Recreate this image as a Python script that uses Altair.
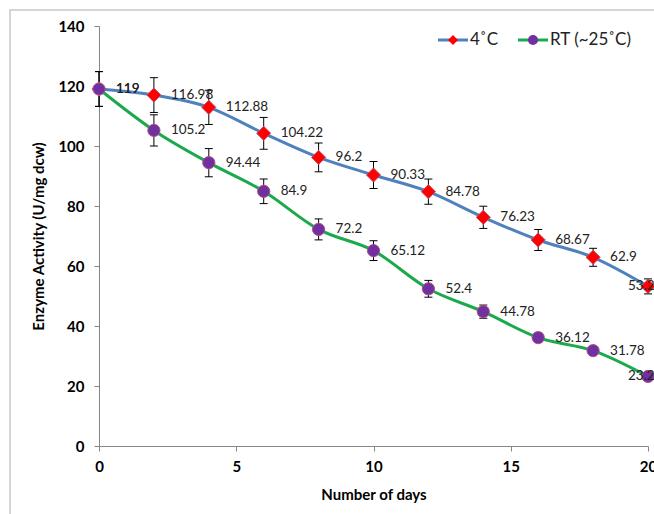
import altair as alt
import pandas as pd

# Storage stability of the enzyme at two temperatures
days = [0, 2, 4, 6, 8, 10, 12, 14, 16, 18, 20]
cold_vals = [119, 116.98, 112.88, 104.22, 96.2, 90.33, 84.78, 76.23, 68.67, 62.9, 53.2]
cold_err = [5.8, 5.8, 5.7, 5.3, 4.8, 4.5, 4.2, 3.7, 3.5, 3.0, 2.5]
rt_vals = [119, 105.2, 94.44, 84.9, 72.2, 65.12, 52.4, 44.78, 36.12, 31.78, 23.2]
rt_err = [5.8, 5.2, 4.7, 4.1, 3.5, 3.3, 2.8, 2.2, 1.5, 1.3, 1.0]
series_names = ["4˚C", "RT (~25˚C)"]
x_ticks = [0, 5, 10, 15, 20]
y_ticks = [0, 20, 40, 60, 80, 100, 120, 140]

line_colors = ["#4F81BD", "#1BAA4B"]
marker_fill = ["#FF0000", "#7030A0"]
FONT = "Lato"

rows = []
for name, vals, errs in zip(series_names, [cold_vals, rt_vals], [cold_err, rt_err]):
    for d, v, e in zip(days, vals, errs):
        rows.append(dict(day=d, value=v, lo=v - e, hi=v + e, series=name, label=f"{v:g}"))
df = pd.DataFrame(rows)

axis_common = dict(
    domainColor="#868686", tickColor="#868686", tickSize=5, grid=False, labelFlush=False,
    labelFont=FONT, labelFontWeight="bold", labelFontSize=15, labelColor="#000000",
    titleFont=FONT, titleFontWeight="bold", titleFontSize=15, titleColor="#000000",
)

x_enc = alt.X("day:Q", scale=alt.Scale(domain=[0, 20], nice=False),
              axis=alt.Axis(values=x_ticks, title="Number of days", labelPadding=8,
                            titlePadding=13, **axis_common))
y_enc = alt.Y("value:Q", scale=alt.Scale(domain=[0, 140], nice=False),
              axis=alt.Axis(values=y_ticks, title="Enzyme Activity (U/mg dcw)",
                            labelPadding=10, titlePadding=11, **axis_common))
color_enc = alt.Color("series:N", scale=alt.Scale(domain=series_names, range=line_colors), legend=None)

base = alt.Chart(df)

frame = alt.Chart(pd.DataFrame({"f": [0]})).mark_rect(
    fillOpacity=0, stroke="#C8C8C8", strokeWidth=1.5
).encode(x=alt.value(-89), x2=alt.value(700), y=alt.value(-16), y2=alt.value(600))

lines = base.mark_line(strokeWidth=3, interpolate="monotone").encode(
    x=x_enc, y=y_enc, color=color_enc, detail="series:N"
)

err_rule = base.mark_rule(color="#000000", strokeWidth=1).encode(
    x="day:Q", y="lo:Q", y2="hi:Q"
)
cap_lo = base.mark_rule(color="#000000", strokeWidth=1, xOffset=-4, x2Offset=4).encode(
    x="day:Q", x2="day:Q", y="lo:Q"
)
cap_hi = base.mark_rule(color="#000000", strokeWidth=1, xOffset=-4, x2Offset=4).encode(
    x="day:Q", x2="day:Q", y="hi:Q"
)

diamonds = base.transform_filter(alt.datum.series == series_names[0]).mark_point(
    shape="diamond", size=200, filled=True, fill=marker_fill[0], stroke="#C0506E",
    strokeWidth=1, opacity=1
).encode(x="day:Q", y="value:Q")

circles = base.transform_filter(alt.datum.series == series_names[1]).mark_point(
    shape="circle", size=150, filled=True, fill=marker_fill[1], stroke="#B0508A",
    strokeWidth=1, opacity=1
).encode(x="day:Q", y="value:Q")

labels = base.transform_filter(alt.datum.day < 20).mark_text(
    align="left", baseline="middle", dx=17, font=FONT, fontSize=13.5, color="#222222"
).encode(x="day:Q", y="value:Q", text="label:N")

end_labels = base.transform_filter(alt.datum.day == 20).mark_text(
    align="left", baseline="middle", dx=-20, font=FONT, fontSize=13.5, color="#222222"
).encode(x="day:Q", y="value:Q", text="label:N")

# Legend drawn as line-plus-marker swatches in the top-right corner
one = pd.DataFrame({"k": [0]})
leg_cold_line = alt.Chart(one).mark_rule(color=line_colors[0], strokeWidth=3).encode(
    x=alt.value(339), x2=alt.value(369), y=alt.value(14))
leg_cold_pt = alt.Chart(one).mark_point(shape="diamond", size=100, filled=True,
                                         fill=marker_fill[0], opacity=1).encode(
    x=alt.value(354), y=alt.value(14))
leg_cold_txt = alt.Chart(one).mark_text(align="left", baseline="middle", font=FONT,
                                        fontSize=17, color="#222222",
                                        text=series_names[0]).encode(
    x=alt.value(371), y=alt.value(14))
leg_rt_line = alt.Chart(one).mark_rule(color=line_colors[1], strokeWidth=3).encode(
    x=alt.value(419), x2=alt.value(449), y=alt.value(14))
leg_rt_pt = alt.Chart(one).mark_point(shape="circle", size=100, filled=True,
                                       fill=marker_fill[1], opacity=1).encode(
    x=alt.value(434), y=alt.value(14))
leg_rt_txt = alt.Chart(one).mark_text(align="left", baseline="middle", font=FONT,
                                      fontSize=17, color="#222222",
                                      text=series_names[1]).encode(
    x=alt.value(451), y=alt.value(14))

chart = alt.layer(
    frame, lines, err_rule, cap_lo, cap_hi, diamonds, circles, labels, end_labels,
    leg_cold_line, leg_cold_pt, leg_cold_txt, leg_rt_line, leg_rt_pt, leg_rt_txt
).properties(
    width=549, height=420,
    autosize=alt.AutoSizeParams(type="none"),
    padding={"left": 99, "top": 26, "right": 6, "bottom": 68},
    background="#FFFFFF",
).configure_view(stroke=None)

chart.save("out.html", embed_options={"renderer": "svg", "actions": False})
